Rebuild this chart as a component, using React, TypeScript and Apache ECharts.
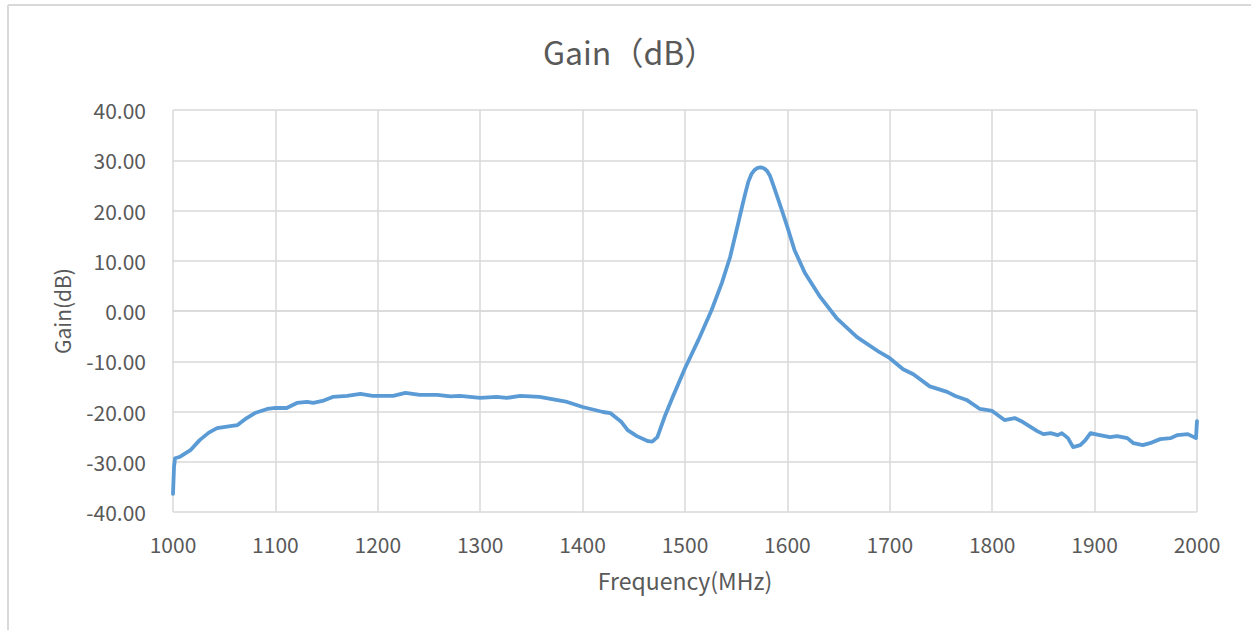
import React, { useEffect, useRef } from "react";
import * as echarts from "echarts";

const freqMHz = [
  1000, 1001, 1002, 1007, 1017, 1026, 1035, 1043, 1056, 1063, 1072, 1080, 1092, 1100, 1111, 1121, 1131, 1137,
  1146, 1156, 1170, 1183, 1195, 1215, 1227, 1241, 1258, 1271, 1280, 1300, 1316, 1326, 1339, 1358, 1385,
  1400, 1420, 1427, 1438, 1444, 1453, 1464, 1468, 1473, 1480, 1488, 1500, 1513, 1526, 1536, 1544, 1552,
  1556, 1559, 1562, 1565, 1568, 1571, 1574, 1577, 1580, 1583, 1586, 1590, 1595, 1600, 1607, 1617, 1632,
  1648, 1668, 1690, 1700, 1713, 1723, 1739, 1756, 1764, 1775, 1788, 1800, 1812, 1822, 1830, 1844, 1850,
  1857, 1864, 1868, 1874, 1879, 1886, 1891, 1896, 1905, 1915, 1922, 1932, 1938, 1947, 1954, 1964, 1974,
  1981, 1991, 1999, 2000,
];
const gainDb = [
  -36.4, -31.0, -29.3, -29.0, -27.7, -25.7, -24.2, -23.3, -22.9, -22.7, -21.3, -20.3, -19.5, -19.3, -19.3,
  -18.3, -18.1, -18.3, -17.9, -17.1, -16.9, -16.5, -16.9, -16.9, -16.3, -16.7, -16.7, -17.0, -16.9, -17.3,
  -17.1, -17.3, -16.9, -17.1, -18.1, -19.1, -20.1, -20.3, -22.1, -23.7, -24.9, -25.9, -26.0, -25.1, -21.1,
  -17.1, -11.4, -5.8, 0.2, 5.6, 10.7, 17.5, 21.0, 23.5, 25.8, 27.3, 28.1, 28.5, 28.6, 28.4, 27.9, 26.9,
  25.2, 22.8, 19.8, 16.7, 12.1, 7.6, 2.8, -1.4, -5.2, -8.2, -9.4, -11.6, -12.6, -15.0, -16.1, -16.9, -17.7,
  -19.5, -19.9, -21.7, -21.3, -22.1, -23.9, -24.5, -24.3, -24.7, -24.3, -25.3, -27.1, -26.7, -25.7, -24.3,
  -24.7, -25.1, -24.9, -25.3, -26.3, -26.7, -26.3, -25.5, -25.3, -24.7, -24.5, -25.3, -21.9,
];

const xTicks = { min: 1000, max: 2000, interval: 100 };
const yTicks = { min: -40, max: 40, interval: 10 };

const FONT = "'Microsoft YaHei', 'Noto Sans CJK SC', sans-serif";
const TEXT = "#595959";
const GRID = "#d9d9d9";

export default function App() {
  const ref = useRef<HTMLDivElement>(null);
  useEffect(() => {
    if (!ref.current) return;
    const chart = echarts.init(ref.current, undefined, { renderer: "svg" });
    chart.setOption({
      animation: false,
      backgroundColor: "#ffffff",
      title: {
        text: "Gain（dB）",
        left: 538,
        top: 30,
        textStyle: { fontFamily: FONT, fontSize: 32, fontWeight: "normal", color: TEXT },
      },
      grid: { left: 173, right: 54, top: 110, bottom: 118, containLabel: false },
      xAxis: {
        type: "value",
        ...xTicks,
        name: "Frequency(MHz)",
        nameLocation: "middle",
        nameGap: 56,
        nameTextStyle: { fontFamily: FONT, fontSize: 23, color: TEXT },
        axisLine: { show: true, lineStyle: { color: GRID, width: 1.5 } },
        axisTick: { show: false },
        axisLabel: {
          fontFamily: FONT,
          fontSize: 21,
          color: TEXT,
          margin: 21,
          formatter: (v: number) => String(v),
        },
        splitLine: { show: true, lineStyle: { color: GRID, width: 1.5 } },
      },
      yAxis: {
        type: "value",
        ...yTicks,
        name: "Gain(dB)",
        nameLocation: "middle",
        nameGap: 101,
        nameTextStyle: { fontFamily: FONT, fontSize: 21, color: TEXT },
        axisLine: { show: false },
        axisTick: { show: false },
        axisLabel: {
          fontFamily: FONT,
          fontSize: 21,
          color: TEXT,
          margin: 27,
          formatter: (v: number) => v.toFixed(2),
        },
        splitLine: { show: true, lineStyle: { color: GRID, width: 1.5 } },
      },
      series: [
        {
          type: "line",
          data: freqMHz.map((f, i) => [f, gainDb[i]]),
          showSymbol: false,
          smooth: false,
          lineStyle: { color: "#5B9BD5", width: 3.8, join: "round", cap: "round" },
          itemStyle: { color: "#5B9BD5" },
        },
      ],
      graphic: [
        { type: "line", shape: { x1: 8, y1: 5, x2: 1251, y2: 5 }, style: { stroke: GRID, lineWidth: 2 } },
        { type: "line", shape: { x1: 8, y1: 5, x2: 8, y2: 630 }, style: { stroke: GRID, lineWidth: 2 } },
      ],
    });
    return () => chart.dispose();
  }, []);
  return (
    <div
      ref={ref}
      style={{ position: "fixed", left: 0, top: 0, width: 1251, height: 630, background: "#fff" }}
    />
  );
}
